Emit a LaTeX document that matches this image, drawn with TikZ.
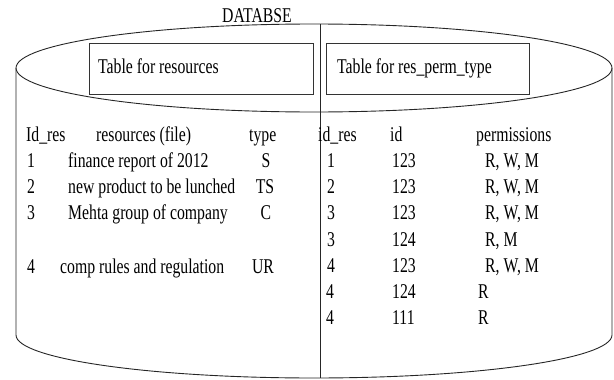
\documentclass[tikz,border=0pt]{standalone}
\usepackage{fontspec}
\setmainfont[FakeStretch=0.75]{Liberation Serif}
\begin{document}
\begin{tikzpicture}[x=1pt,y=-1pt,
  txt/.style={anchor=base west,inner sep=0pt,font=\fontsize{21}{24}\selectfont},
  ctxt/.style={anchor=base,inner sep=0pt,font=\fontsize{21}{24}\selectfont},
  shell/.style={draw=black!85,line width=0.9pt},
  tbox/.style={draw=black!80,line width=1pt}]
\useasboundingbox (0,0) rectangle (614,380);
% cylinder
\draw[shell] (314,68) ellipse [x radius=298, y radius=44];
\draw[shell] (16,68) -- (16,335) arc[start angle=180,end angle=0,x radius=298,y radius=43] -- (612,68);
\draw[shell] (320,24.2) -- (320,378);
% title
\node[ctxt] (db) at (257,22) {DATABSE};
% table boxes
\node[tbox,minimum width=224pt,minimum height=51pt,anchor=north west,inner sep=0pt] (b1) at (89,43) {};
\node[tbox,minimum width=203pt,minimum height=51pt,anchor=north west,inner sep=0pt] (b2) at (326,43) {};
\node[txt] (t1) at (98,74) {Table for resources};
\node[txt] (t2) at (337,74) {Table for res\_perm\_type};
% left table
\node[txt] (h1) at (26,141) {Id\_res};
\node[txt] (h2) at (96,141) {resources (file)};
\node[txt] (h3) at (249,141) {type};
\node[txt] (l1a) at (27,167) {1};
\node[txt] (l1b) at (68,167) {finance report of 2012};
\node[ctxt] (l1c) at (266,167) {S};
\node[txt] (l2a) at (27,193) {2};
\node[txt] (l2b) at (68,193) {new product to be lunched};
\node[ctxt] (l2c) at (265,193) {TS};
\node[txt] (l3a) at (27,219) {3};
\node[txt] (l3b) at (68,219) {Mehta group of company};
\node[ctxt] (l3c) at (266,219) {C};
\node[txt] (l4a) at (27,273) {4};
\node[txt] (l4b) at (60,273) {comp rules and regulation};
\node[ctxt] (l4c) at (263,273) {UR};
% right table
\node[txt] (r0a) at (318,141) {id\_res};
\node[txt] (r0b) at (390,141) {id};
\node[txt] (r0c) at (476,141) {permissions};
\node[txt] (r1a) at (327,167) {1};
\node[txt] (r1b) at (392,167) {123};
\node[txt] (r1c) at (485,167) {R, W, M};
\node[txt] (r2a) at (327,193) {2};
\node[txt] (r2b) at (392,193) {123};
\node[txt] (r2c) at (485,193) {R, W, M};
\node[txt] (r3a) at (327,219) {3};
\node[txt] (r3b) at (392,219) {123};
\node[txt] (r3c) at (485,219) {R, W, M};
\node[txt] (r4a) at (327,246) {3};
\node[txt] (r4b) at (392,246) {124};
\node[txt] (r4c) at (485,246) {R, M};
\node[txt] (r5a) at (327,272) {4};
\node[txt] (r5b) at (392,272) {123};
\node[txt] (r5c) at (485,272) {R, W, M};
\node[txt] (r6a) at (326,298) {4};
\node[txt] (r6b) at (392,298) {124};
\node[txt] (r6c) at (478,298) {R};
\node[txt] (r7a) at (326,324) {4};
\node[txt] (r7b) at (392,324) {111};
\node[txt] (r7c) at (478,324) {R};
\end{tikzpicture}
\end{document}
